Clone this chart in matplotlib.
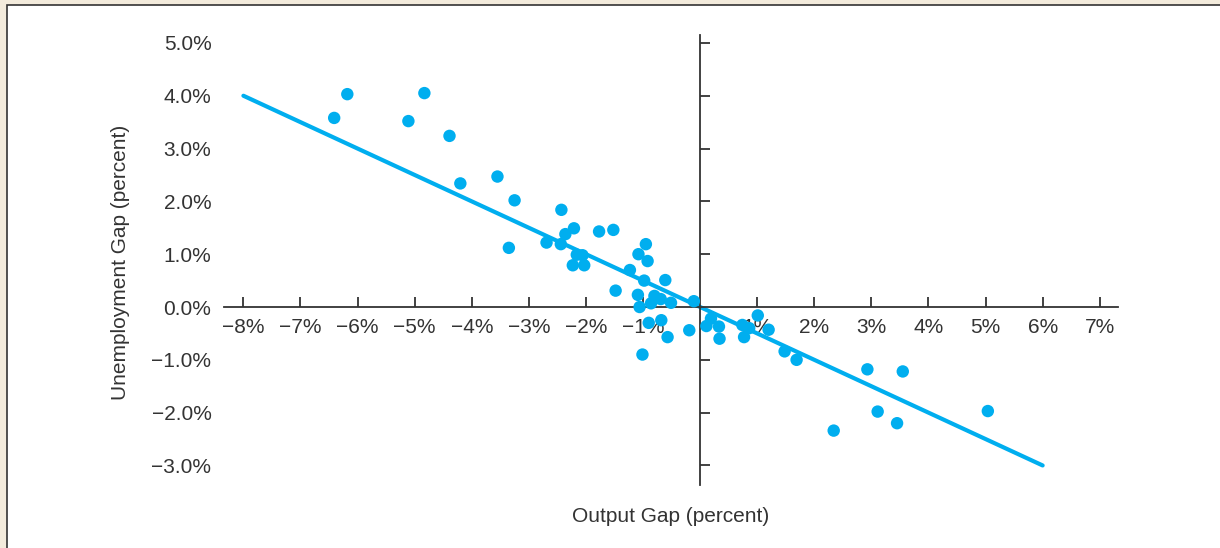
import matplotlib.pyplot as plt
from matplotlib.patches import Rectangle
from matplotlib.ticker import FuncFormatter

# Okun's law scatter: output gap vs unemployment gap (percent)

output_gap = [
    -6.41, -6.18, -5.11, -4.83, -4.39, -4.20, -3.55, -3.25, -3.35,
    -2.43, -2.69, -2.44, -2.36, -2.21, -2.16, -2.06, -2.23, -2.03,
    -1.77, -1.52, -1.48, -1.23, -1.08, -0.95, -0.92, -0.98, -0.61,
    -1.09, -1.06, -0.86, -0.80, -0.69, -0.51, -0.11,
    -0.90, -0.68, -0.57, -0.19, -1.01,
    0.11, 0.19, 0.33, 0.34, 0.74, 0.86, 0.77, 1.01, 1.20, 1.48, 1.69,
    2.93, 3.55, 3.11, 3.45, 2.34, 5.04,
]
unemployment_gap = [
    3.58, 4.03, 3.52, 4.05, 3.24, 2.34, 2.47, 2.02, 1.12,
    1.84, 1.22, 1.19, 1.38, 1.49, 0.99, 0.98, 0.79, 0.79,
    1.43, 1.46, 0.31, 0.70, 1.00, 1.19, 0.87, 0.50, 0.51,
    0.23, 0.00, 0.07, 0.21, 0.15, 0.08, 0.11,
    -0.30, -0.25, -0.57, -0.44, -0.90,
    -0.36, -0.22, -0.37, -0.60, -0.34, -0.40, -0.57, -0.16, -0.43, -0.84, -1.00,
    -1.18, -1.22, -1.98, -2.20, -2.34, -1.97,
]

# fitted line endpoints
fit_x = [-8, 6]
fit_y = [4.0, -3.0]

x_ticks = [-8, -7, -6, -5, -4, -3, -2, -1, 1, 2, 3, 4, 5, 6, 7]
y_ticks = [5, 4, 3, 2, 1, -1, -2, -3]
y_label_ticks = [5, 4, 3, 2, 1, 0, -1, -2, -3]

BLUE = "#00aeef"
DARK = "#333333"
FS = 15

plt.rcParams["font.family"] = ["Liberation Sans", "DejaVu Sans"]

fig = plt.figure(figsize=(12.2, 5.48), dpi=100)
fig.patch.set_facecolor("#f3ebdc")

# white panel with dark border (runs off the right and bottom edges)
panel = Rectangle((7 / 1220, -0.05), 1.0, 1.05 - 5 / 548, transform=fig.transFigure,
                  facecolor="white", edgecolor=DARK, linewidth=1.2, zorder=-10)
fig.patches.append(panel)

ax = fig.add_axes([224 / 1220, 1 - 485 / 548, (1118 - 224) / 1220, (485 - 35) / 548])
ax.set_facecolor("none")
ax.set_xlim(-8.34, 7.32)
ax.set_ylim(-3.37, 5.15)

ax.plot(fit_x, fit_y, color=BLUE, linewidth=3, solid_capstyle="round", zorder=2)
ax.scatter(output_gap, unemployment_gap, s=80, color=BLUE, edgecolors="none", zorder=3)

# axes crossing at origin
for side in ["top", "right"]:
    ax.spines[side].set_visible(False)
ax.spines["bottom"].set_position(("data", 0))
ax.spines["left"].set_position(("data", 0))
for side in ["bottom", "left"]:
    ax.spines[side].set_color(DARK)
    ax.spines[side].set_linewidth(1.3)

ax.set_xticks(x_ticks)
ax.xaxis.set_major_formatter(FuncFormatter(lambda v, p: f"{v:.0f}%".replace("-", "\u2212")))
ax.tick_params(axis="x", direction="in", length=7, width=1.3, color=DARK,
               labelsize=FS, labelcolor=DARK, pad=8)

ax.set_yticks(y_ticks)
ax.tick_params(axis="y", direction="in", length=7, width=1.3, color=DARK, labelleft=False)

# y tick labels at the far left
sec = ax.secondary_yaxis(0.0)
sec.set_yticks(y_label_ticks)
sec.yaxis.set_major_formatter(FuncFormatter(lambda v, p: f"{v:.1f}%".replace("-", "\u2212")))
sec.tick_params(axis="y", length=0, pad=9, labelsize=FS, labelcolor=DARK)
sec.spines["left"].set_visible(False)

fig.text(120 / 1220, 1 - 262 / 548, "Unemployment Gap (percent)", rotation=90,
         ha="center", va="center", fontsize=FS, color=DARK)
fig.text(671 / 1220, 1 - 516 / 548, "Output Gap (percent)",
         ha="center", va="center", fontsize=FS, color=DARK)

fig.savefig("out.png", dpi=100, facecolor=fig.get_facecolor())
